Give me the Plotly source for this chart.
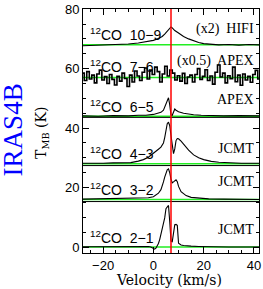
import plotly.graph_objects as go

# ---------------- data ----------------
v_lsr = 7.0
baselines = {"2-1": 0, "3-2": 16, "4-3": 28, "6-5": 44, "7-6": 57, "10-9": 68}
separators = [15.3, 27.4, 43.6]

v21 = [-28, -20, -10, -5, -2, -1, 0, 0.5, 1, 1.5, 2, 2.5, 3, 3.5, 4, 4.5, 5, 5.5, 6, 6.5,
       7, 7.5, 8, 8.5, 9, 9.5, 10, 10.5, 11, 12, 13, 15, 18, 22, 30, 42]
t21 = [0.1, 0.2, 0.3, 0.3, 0.2, 0.0, -0.5, -0.7, -0.4, 0.3, 1.2, 2.5, 4.2, 6.3, 8.0, 9.8, 12.9, 13.4, 14.0, 8.5,
       2.0, 1.8, 4.5, 7.5, 7.6, 7.3, 1.3, 0.9, 0.7, 0.5, 0.4, 0.3, 0.2, 0.1, 0.0, 0.0]

v32 = [-28, -20, -10, -5, -2, 0, 1, 2, 3, 3.5, 4, 4.5, 5, 5.5, 6, 6.5, 7, 7.5, 8, 8.5,
       9, 9.5, 10, 11, 12, 13, 15, 18, 22, 28, 35, 42]
t32 = [0.1, 0.2, 0.3, 0.4, 0.6, 0.9, 1.4, 2.1, 3.3, 4.3, 5.9, 7.5, 9.2, 10.0, 10.3, 9.0, 6.8, 5.6, 5.9, 6.4,
       6.6, 6.0, 4.4, 2.6, 1.8, 1.3, 0.7, 0.4, 0.2, 0.1, 0.1, 0.0]

v43 = [-28, -24, -20, -16, -12, -9, -6, -4, -2, 0, 1, 2, 3, 3.5, 4, 4.5, 5, 5.5, 6, 6.5,
       7, 7.5, 8, 8.5, 9, 9.5, 10, 11, 12, 13, 14, 16, 18, 20, 23, 26, 30, 35, 42]
t43 = [0.2, 0.1, 0.2, 0.3, 0.3, 0.4, 0.9, 1.4, 2.2, 3.4, 4.2, 4.9, 5.6, 6.2, 7.0, 8.8, 11.5, 13.5, 14.0, 12.8,
       9.5, 5.8, 3.4, 5.0, 7.8, 8.5, 8.4, 7.6, 6.6, 5.6, 4.6, 3.0, 2.0, 1.4, 0.8, 0.5, 0.3, 0.2, 0.2]

v65 = [-28, -22, -16, -10, -6, -3, 0, 2, 3, 4, 4.5, 5, 5.5, 6, 6.5, 7, 7.5, 8, 8.5, 9,
       10, 12, 14, 16, 19, 23, 28, 34, 42]
t65 = [0.1, 0.0, 0.2, 0.1, 0.3, 0.3, 0.6, 1.0, 1.3, 2.0, 2.9, 4.0, 5.3, 6.2, 3.8, 0.4, 0.3, 1.8, 2.4, 2.0,
       1.5, 1.0, 0.7, 0.5, 0.3, 0.2, 0.1, 0.2, 0.1]

v76 = list(range(-28, 43))
t76 = [1.5, -1.0, 2.0, -0.5, 0.8, -1.8, 1.2, 2.5, -0.8, 0.3, -2.0, 1.0, -0.6, -2.5, 0.4, -1.2, 1.5, -0.3,
       -3.0, 0.8, -1.5, 2.2, 0.5, -1.0, 1.8, 3.2, -0.5, 2.5, 1.0, 3.5, 2.0, -1.5, 1.2, 3.8, 0.5, 2.5,
       1.5, -0.8, 0.6, -1.2, 1.4, -2.0, 0.2, 0.8, -1.5, 1.0, 3.0, -0.6, 0.4, 2.6, -1.0, 0.5, -2.2,
       1.8, 4.2, 0.2, 1.5, -1.8, 0.6, -0.4, 3.5, -1.4, 0.8, -2.6, 1.2, -0.8, 0.4, -1.6, 1.0, 2.4, -0.5]

v109 = [-28, -24, -20, -15, -10, -6, -3, 0, 2, 3.5, 4.5, 5.5, 6.5, 7, 7.5, 8.5, 10, 12, 14, 16,
        18, 20, 23, 26, 30, 34, 38, 42]
t109 = [-0.3, -0.2, -0.1, 0.1, 0.3, 0.6, 1.0, 1.5, 2.1, 2.8, 3.6, 4.7, 5.8, 6.0, 5.7, 4.8, 4.0, 2.8, 2.0, 1.3,
        0.8, 0.4, 0.2, 0.0, 0.1, -0.1, 0.1, 0.0]

spectra = [
    ("2-1", v21, t21, "linear"),
    ("3-2", v32, t32, "linear"),
    ("4-3", v43, t43, "linear"),
    ("6-5", v65, t65, "linear"),
    ("7-6", v76, t76, "hvh"),
    ("10-9", v109, t109, "linear"),
]

left_labels = {"2-1": 3.4, "3-2": 19.5, "4-3": 31.5, "6-5": 47.6, "7-6": 60.8, "10-9": 71.7}
right_labels = [("JCMT", 6.0), ("JCMT", 22.1), ("JCMT", 33.2), ("APEX", 49.7),
                ("(x0.5)  APEX", 62.5), ("(x2)  HIFI", 73.4)]

x_range = [-28, 42]
y_range = [-2, 80.05]
y_ticks = [0, 20, 40, 60, 80]
x_ticks = [-20, 0, 20, 40]

# ---------------- figure ----------------
fig = go.Figure()

for name, base in baselines.items():
    fig.add_trace(go.Scatter(x=x_range, y=[base, base], mode="lines",
                             line=dict(color="#22ee22", width=1.5), showlegend=False, hoverinfo="skip"))

for s in separators:
    fig.add_trace(go.Scatter(x=x_range, y=[s, s], mode="lines",
                             line=dict(color="black", width=1), showlegend=False, hoverinfo="skip"))

for name, v, t, shape in spectra:
    base = baselines[name]
    fig.add_trace(go.Scatter(x=v, y=[base + val for val in t], mode="lines", line_shape=shape,
                             line=dict(color="black", width=1.6 if name == "7-6" else 1.1),
                             showlegend=False, hoverinfo="skip"))

fig.add_shape(type="line", x0=v_lsr, x1=v_lsr, y0=0, y1=1, xref="x", yref="paper",
              line=dict(color="red", width=1.5), layer="above")

for name, yv in left_labels.items():
    fig.add_annotation(x=-26, y=yv, xref="x", yref="y", text="<sup>12</sup>CO  " + name.replace("-", "\u2212"),
                       showarrow=False, xanchor="left", yanchor="middle",
                       font=dict(family="Liberation Sans, Arial", size=14, color="black"))

for txt, yv in right_labels:
    fig.add_annotation(x=41, y=yv, xref="x", yref="y", text=txt, showarrow=False,
                       xanchor="right", yanchor="middle",
                       font=dict(family="Liberation Serif, Times New Roman", size=14, color="black"))

fig.add_annotation(x=-0.40, y=0.505, xref="paper", yref="paper", text="IRAS4B", textangle=-90,
                   showarrow=False, xanchor="center", yanchor="middle",
                   font=dict(family="Liberation Serif, Times New Roman", size=27, color="#0000ff"))

fig.add_annotation(x=-0.23, y=0.49, xref="paper", yref="paper", text="T<sub>MB</sub> (K)", textangle=-90,
                   showarrow=False, xanchor="center", yanchor="middle",
                   font=dict(family="DejaVu Serif", size=14, color="black"))

fig.add_annotation(x=0.49, y=-0.11, xref="paper", yref="paper", text="Velocity (km/s)",
                   showarrow=False, xanchor="center", yanchor="middle",
                   font=dict(family="DejaVu Serif", size=14, color="black"))

axis_common = dict(showline=True, linecolor="black", linewidth=1, mirror="ticks",
                   ticks="inside", ticklen=6, tickcolor="black", tickwidth=1,
                   showgrid=False, zeroline=False, ticklabeloverflow="allow",
                   tickfont=dict(family="Liberation Sans, Arial", size=13, color="black"))

fig.update_xaxes(range=x_range, tickmode="array", tickvals=x_ticks,
                 minor=dict(dtick=5, tick0=0, ticks="inside", ticklen=3, tickcolor="black"), **axis_common)
fig.update_yaxes(range=y_range, tickmode="array", tickvals=y_ticks,
                 minor=dict(dtick=5, tick0=0, ticks="inside", ticklen=3, tickcolor="black"), **axis_common)

fig.update_layout(width=263, height=289, margin=dict(l=83, r=2, t=5, b=36),
                  plot_bgcolor="white", paper_bgcolor="white", showlegend=False)

fig.write_html("out.html", config={"displayModeBar": False},
               post_script="document.body.style.margin='0';document.body.style.overflow='hidden';")
